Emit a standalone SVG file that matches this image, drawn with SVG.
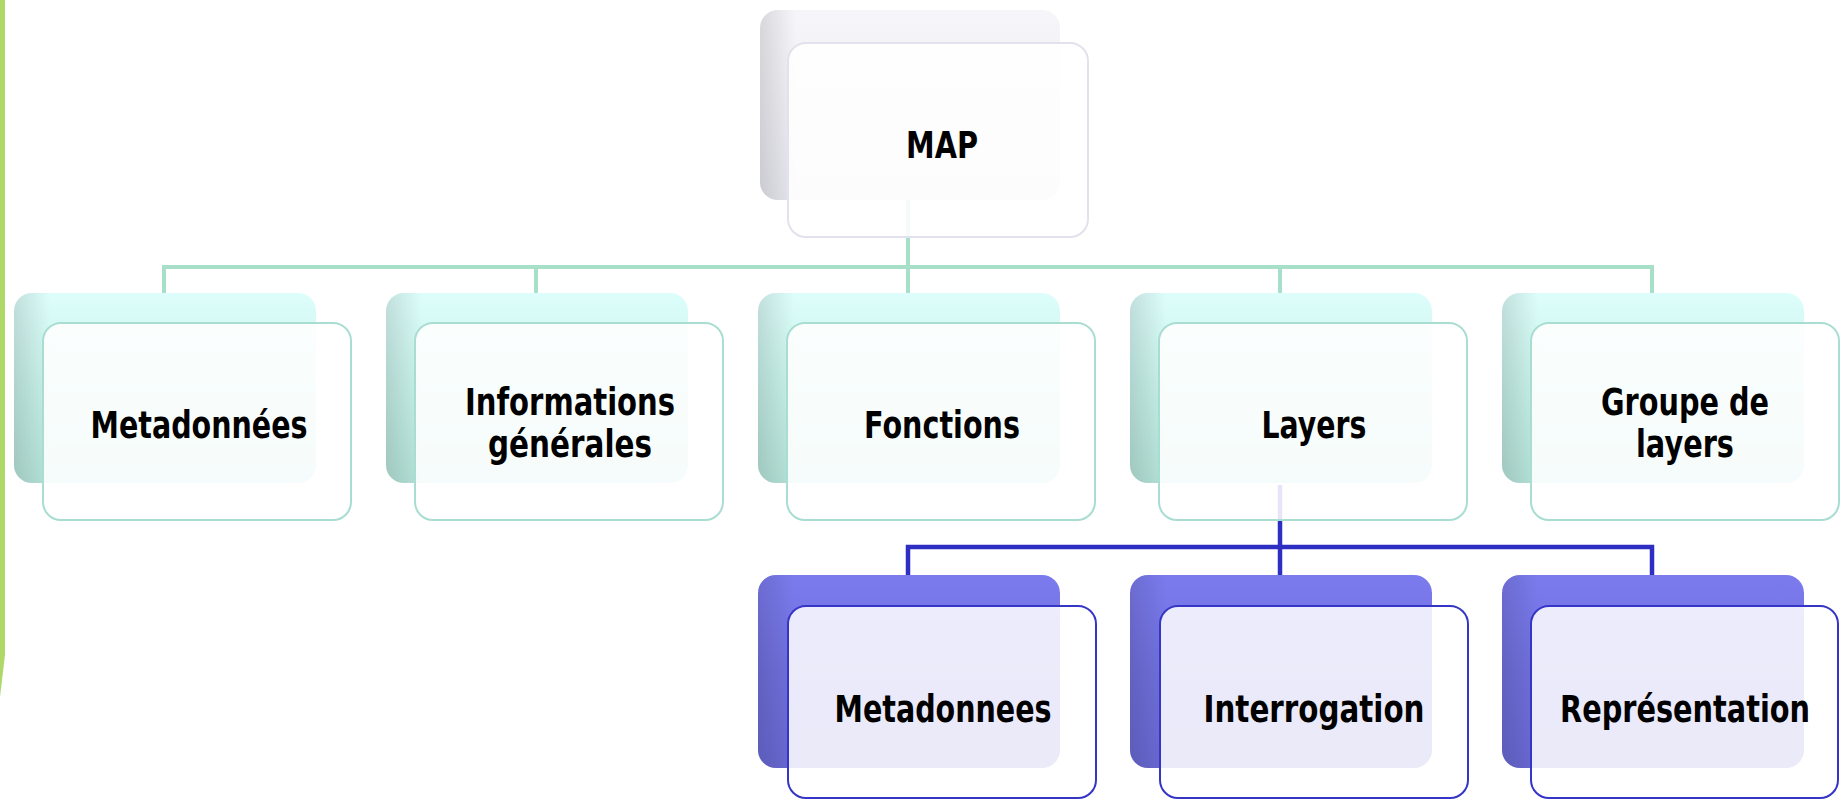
<svg xmlns="http://www.w3.org/2000/svg" width="1841" height="800" viewBox="0 0 1841 800">
<defs>
<linearGradient id="gMint" x1="0" y1="0" x2="0" y2="1">
<stop offset="0" stop-color="#DDFEFB"/>
<stop offset="0.5" stop-color="#C6F0E8"/>
<stop offset="1" stop-color="#B4E2D8"/>
</linearGradient>
<linearGradient id="gBlue" x1="0" y1="0" x2="0" y2="1">
<stop offset="0" stop-color="#7B7BEE"/>
<stop offset="0.5" stop-color="#6F6FDC"/>
<stop offset="1" stop-color="#6868D2"/>
</linearGradient>
<linearGradient id="gGrey" x1="0" y1="0" x2="0" y2="1">
<stop offset="0" stop-color="#F6F6FA"/>
<stop offset="1" stop-color="#E6E6EE"/>
</linearGradient>
<linearGradient id="gSide" x1="0" y1="0" x2="1" y2="0">
<stop offset="0" stop-color="#000" stop-opacity="0.12"/>
<stop offset="0.12" stop-color="#000" stop-opacity="0"/>
</linearGradient>
</defs>
<style>
.t{font-family:"DejaVu Sans","Liberation Sans",sans-serif;font-weight:bold;font-size:37px;fill:#000;text-anchor:middle}
.bk1{fill:url(#gMint)}
.bk2{fill:url(#gBlue)}
.bk0{fill:url(#gGrey)}
.sd{fill:url(#gSide)}
.fr1{fill:#FFFFFF;fill-opacity:0.88;stroke:#A9DDD2;stroke-width:2}
.fr2{fill:#FFFFFF;fill-opacity:0.86;stroke:#3535C8;stroke-width:2}
.fr0{fill:#FFFFFF;fill-opacity:0.88;stroke:#E2E2EC;stroke-width:2}
.cg{fill:none;stroke:#A8DFC9;stroke-width:4}
.cb{fill:none;stroke:#2E2EC2;stroke-width:4.5}
</style>
<rect x="0" y="0" width="5" height="655" fill="#AED868"/>
<path d="M0 655 H5 L0 697 Z" fill="#AED868"/>
<g id="connectors">
<path class="cg" d="M908 200 V267"/>
<path class="cg" d="M164 293 V267 H1652 V293"/>
<path class="cg" d="M536 267 V293 M908 267 V293 M1280 267 V293"/>
<path class="cb" d="M1280 485 V547"/>
<path class="cb" d="M908 575 V547 H1652 V575 M1280 547 V575"/>
</g>
<g id="map">
<rect class="bk0" x="760" y="10" width="300" height="190" rx="18"/>
<rect class="sd" x="760" y="10" width="300" height="190" rx="18"/>
<rect class="fr0" x="788" y="43" width="300" height="194" rx="18"/>
<text class="t" x="942" y="158" textLength="72" lengthAdjust="spacingAndGlyphs">MAP</text>
</g>
<g id="metadonnees1">
<rect class="bk1" x="14" y="293" width="302" height="190" rx="18"/>
<rect class="sd" x="14" y="293" width="302" height="190" rx="18"/>
<rect class="fr1" x="43" y="323" width="308" height="197" rx="18"/>
<text class="t" x="199" y="438" textLength="217" lengthAdjust="spacingAndGlyphs">Metadonnées</text>
</g>
<g id="informations">
<rect class="bk1" x="386" y="293" width="302" height="190" rx="18"/>
<rect class="sd" x="386" y="293" width="302" height="190" rx="18"/>
<rect class="fr1" x="415" y="323" width="308" height="197" rx="18"/>
<text class="t" x="570" y="415" textLength="210" lengthAdjust="spacingAndGlyphs">Informations</text>
<text class="t" x="570" y="457" textLength="164" lengthAdjust="spacingAndGlyphs">générales</text>
</g>
<g id="fonctions">
<rect class="bk1" x="758" y="293" width="302" height="190" rx="18"/>
<rect class="sd" x="758" y="293" width="302" height="190" rx="18"/>
<rect class="fr1" x="787" y="323" width="308" height="197" rx="18"/>
<text class="t" x="942" y="438" textLength="156" lengthAdjust="spacingAndGlyphs">Fonctions</text>
</g>
<g id="layers">
<rect class="bk1" x="1130" y="293" width="302" height="190" rx="18"/>
<rect class="sd" x="1130" y="293" width="302" height="190" rx="18"/>
<rect class="fr1" x="1159" y="323" width="308" height="197" rx="18"/>
<text class="t" x="1314" y="438" textLength="105" lengthAdjust="spacingAndGlyphs">Layers</text>
</g>
<g id="groupe">
<rect class="bk1" x="1502" y="293" width="302" height="190" rx="18"/>
<rect class="sd" x="1502" y="293" width="302" height="190" rx="18"/>
<rect class="fr1" x="1531" y="323" width="308" height="197" rx="18"/>
<text class="t" x="1685" y="415" textLength="168" lengthAdjust="spacingAndGlyphs">Groupe de</text>
<text class="t" x="1685" y="457" textLength="98" lengthAdjust="spacingAndGlyphs">layers</text>
</g>
<g id="metadonnees2">
<rect class="bk2" x="758" y="575" width="302" height="193" rx="18"/>
<rect class="sd" x="758" y="575" width="302" height="193" rx="18"/>
<rect class="fr2" x="788" y="606" width="308" height="192" rx="18"/>
<text class="t" x="943" y="722" textLength="217" lengthAdjust="spacingAndGlyphs">Metadonnees</text>
</g>
<g id="interrogation">
<rect class="bk2" x="1130" y="575" width="302" height="193" rx="18"/>
<rect class="sd" x="1130" y="575" width="302" height="193" rx="18"/>
<rect class="fr2" x="1160" y="606" width="308" height="192" rx="18"/>
<text class="t" x="1314" y="722" textLength="221" lengthAdjust="spacingAndGlyphs">Interrogation</text>
</g>
<g id="representation">
<rect class="bk2" x="1502" y="575" width="302" height="193" rx="18"/>
<rect class="sd" x="1502" y="575" width="302" height="193" rx="18"/>
<rect class="fr2" x="1531" y="606" width="307" height="192" rx="18"/>
<text class="t" x="1685" y="722" textLength="250" lengthAdjust="spacingAndGlyphs">Représentation</text>
</g>
</svg>
